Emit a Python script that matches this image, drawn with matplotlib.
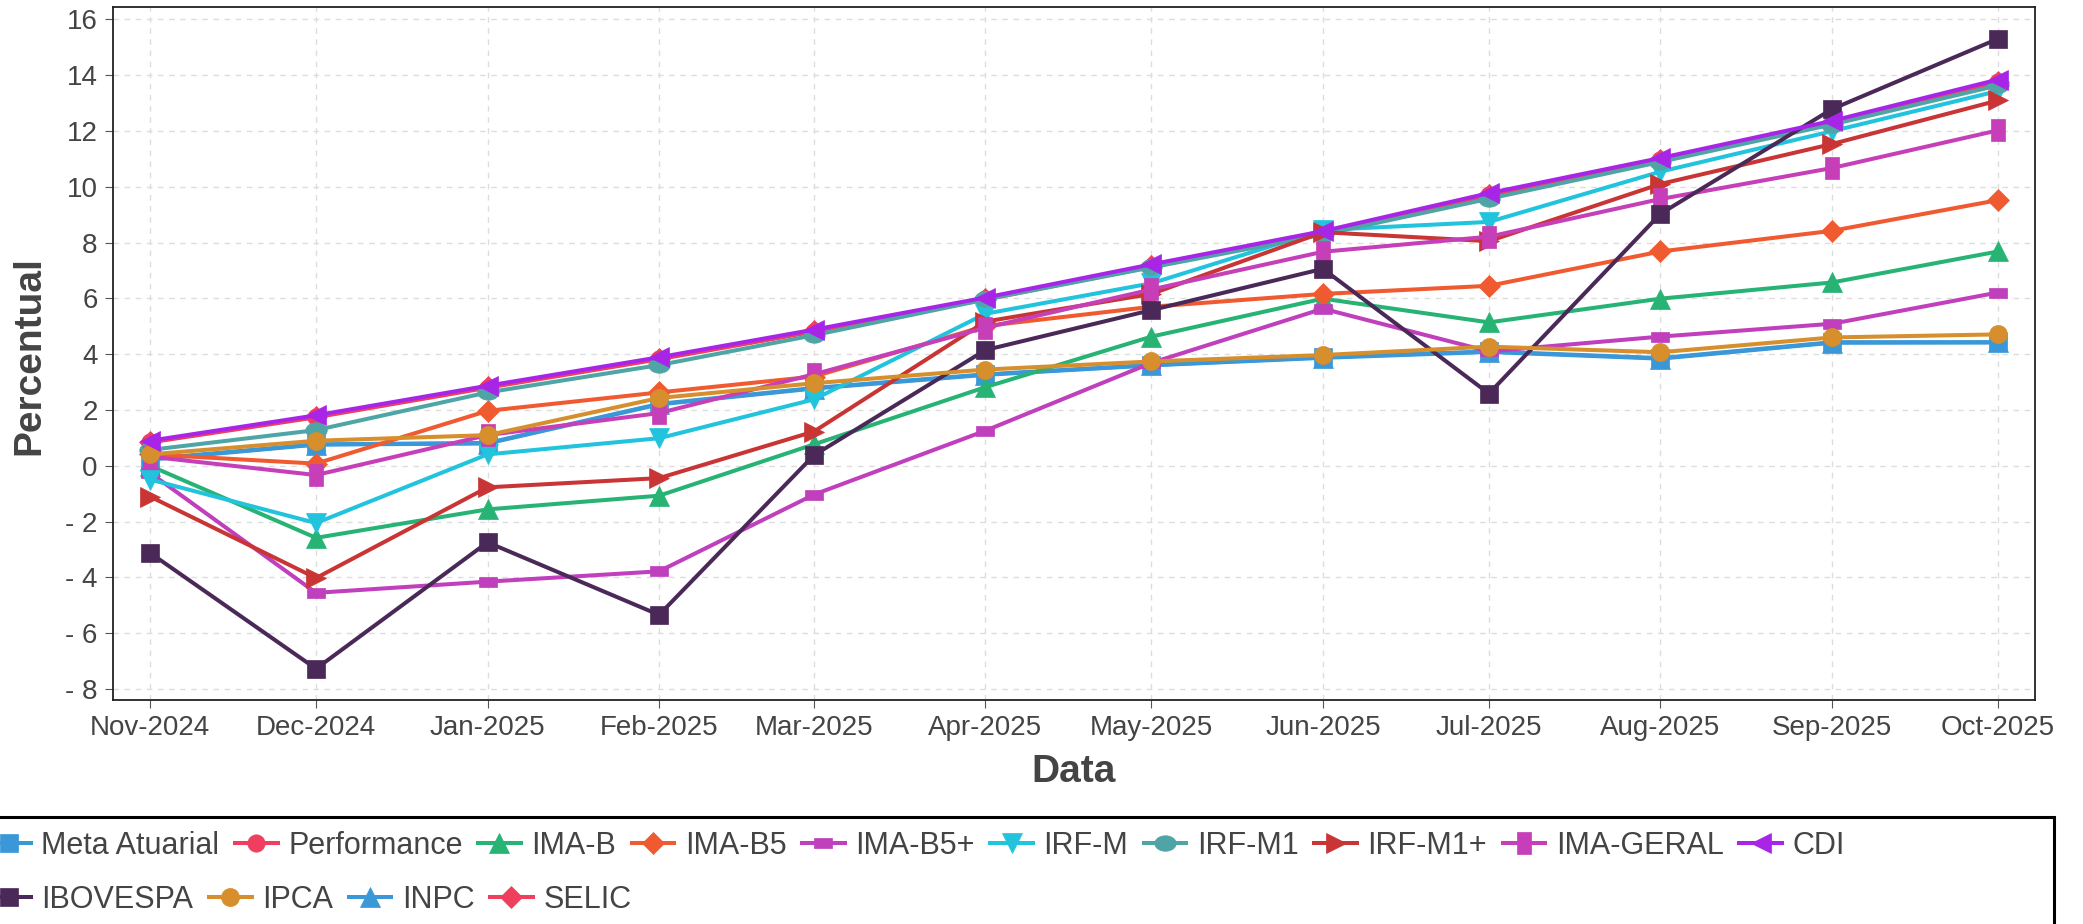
import matplotlib
matplotlib.use('Agg')
import matplotlib.pyplot as plt
import matplotlib.dates as mdates
from matplotlib.patches import Rectangle
from matplotlib.ticker import FuncFormatter
import numpy as np
import pandas as pd

# Data (accumulated %, Nov-2024 .. Oct-2025)
months = pd.date_range('2024-11-01', '2025-10-01', freq='MS')

meta_atuarial = [0.25, 0.77, 0.82, 2.22, 2.79, 3.28, 3.61, 3.89, 4.10, 3.86, 4.43, 4.43]
performance = [0.84, 1.74, 2.80, 3.82, 4.81, 5.96, 7.14, 8.33, 9.69, 10.95, 12.28, 13.75]
ima_b = [0.00, -2.58, -1.56, -1.07, 0.77, 2.82, 4.63, 5.99, 5.14, 5.99, 6.57, 7.68]
ima_b5 = [0.41, 0.08, 1.97, 2.63, 3.20, 5.01, 5.70, 6.16, 6.45, 7.68, 8.42, 9.52]
ima_b5_plus = [-0.25, -4.55, -4.15, -3.78, -1.03, 1.26, 3.69, 5.63, 4.10, 4.63, 5.09, 6.21]
irf_m = [-0.49, -2.05, 0.41, 0.99, 2.38, 5.45, 6.54, 8.45, 8.74, 10.54, 11.99, 13.43]
irf_m1 = [0.57, 1.28, 2.63, 3.61, 4.68, 5.96, 7.11, 8.29, 9.57, 10.89, 12.23, 13.63]
irf_m1_plus = [-1.10, -4.02, -0.77, -0.44, 1.23, 5.17, 6.16, 8.37, 8.05, 10.10, 11.53, 13.09]
ima_geral = [0.33, -0.33, 1.10, 1.89, 3.28, 4.95, 6.32, 7.67, 8.21, 9.56, 10.67, 12.02]
cdi = [0.90, 1.81, 2.87, 3.89, 4.88, 6.03, 7.22, 8.41, 9.77, 11.03, 12.36, 13.84]
ibovespa = [-3.12, -7.27, -2.74, -5.34, 0.38, 4.15, 5.58, 7.06, 2.59, 9.03, 12.78, 15.30]
ipca = [0.41, 0.90, 1.10, 2.43, 2.96, 3.45, 3.74, 3.97, 4.27, 4.07, 4.60, 4.71]
inpc = [0.22, 0.76, 0.80, 2.20, 2.77, 3.26, 3.60, 3.87, 4.08, 3.84, 4.41, 4.42]
selic = [0.86, 1.76, 2.82, 3.84, 4.83, 5.98, 7.16, 8.35, 9.71, 10.97, 12.30, 13.77]

labels = ['Meta Atuarial', 'Performance', 'IMA-B', 'IMA-B5', 'IMA-B5+', 'IRF-M',
          'IRF-M1', 'IRF-M1+', 'IMA-GERAL', 'CDI', 'IBOVESPA', 'IPCA', 'INPC', 'SELIC']
series = [meta_atuarial, performance, ima_b, ima_b5, ima_b5_plus, irf_m, irf_m1,
          irf_m1_plus, ima_geral, cdi, ibovespa, ipca, inpc, selic]
colors = ['#3a98d8', '#f03e5f', '#27b374', '#f05a30', '#c03fbd', '#22c3dc', '#4fa5a5',
          '#c93535', '#c63fb8', '#a825e8', '#4a2958', '#d68f2c', '#3a98d8', '#f03e5f']

# custom marker shapes
t = np.linspace(0, 2 * np.pi, 40)
ellipse = list(zip(np.cos(t), 0.72 * np.sin(t)))
flat_rect = [(-1, -0.6), (1, -0.6), (1, 0.6), (-1, 0.6), (-1, -0.6)]
tall_rect = [(-0.58, -1), (0.58, -1), (0.58, 1), (-0.58, 1), (-0.58, -1)]

markers = ['s', 'o', '^', 'D', flat_rect, 'v', ellipse, '>', tall_rect, '<', 's', 'o', '^', 'D']
msizes = [12.5, 12.5, 14.5, 11, 12.5, 14.5, 15.5, 14.5, 16.5, 14.5, 13.5, 13, 14.5, 11]
zorders = [2, 2, 3, 3, 3, 3, 3, 3, 3, 5, 3, 3, 2, 2]

plt.rcParams['font.family'] = ['Liberation Sans', 'DejaVu Sans']
TXT = '#444444'

fig = plt.figure(figsize=(20.83, 9.24), dpi=100)
ax = fig.add_axes([113 / 2083, 1 - 700 / 924, (2035 - 113) / 2083, (700 - 7) / 924])

lines = []
for lab, vals, c, m, ms, z in zip(labels, series, colors, markers, msizes, zorders):
    ln, = ax.plot(months, vals, color=c, marker=m, markersize=ms, lw=2.9,
                  markeredgecolor=c, markeredgewidth=0.5, label=lab, zorder=z)
    lines.append(ln)

# axes, ticks, grid
x0 = mdates.date2num(months[0]) - 6.7
x1 = mdates.date2num(months[-1]) + 6.7
ax.set_xlim(x0, x1)
ax.set_ylim(-8.39, 16.44)
ax.set_xticks(months)
ax.xaxis.set_major_formatter(mdates.DateFormatter('%b-%Y'))
ax.set_yticks(np.arange(-8, 17, 2))
ax.yaxis.set_major_formatter(FuncFormatter(lambda v, p: f'- {abs(v):.0f}' if v < 0 else f'{v:.0f}'))
ax.tick_params(labelsize=20, colors='#555555', labelcolor=TXT, length=6, pad=5)
ax.grid(True, color='#dddddd', linestyle=(0, (4, 4)), lw=1, zorder=0)
ax.set_axisbelow(True)
for s in ax.spines.values():
    s.set_color('#222222')
    s.set_linewidth(1.3)

fig.text(29 / 2083, 1 - 356 / 924, 'Percentual', rotation=90, ha='center', va='center',
         fontsize=28, fontweight='bold', color=TXT)
fig.text(1074 / 2083, 1 - 772 / 924, 'Data', ha='center', va='center',
         fontsize=28, fontweight='bold', color=TXT)

# legend: box + two flowing rows
fig.add_artist(Rectangle((-0.01, -0.1), 2054 / 2083 + 0.01, 0.1 + (1 - 817 / 924),
                         transform=fig.transFigure, fill=False, lw=2.2,
                         edgecolor='black', clip_on=False))
leg_kw = dict(frameon=False, fontsize=22, handlelength=1.4, handletextpad=0.35,
              columnspacing=0.5, borderpad=0, borderaxespad=0, labelcolor=TXT,
              loc='center left')
fig.legend(lines[:10], labels[:10], ncol=10, bbox_to_anchor=(-12 / 2083, 1 - 846 / 924), **leg_kw)
fig.legend(lines[10:], labels[10:], ncol=4, bbox_to_anchor=(-12 / 2083, 1 - 900 / 924), **leg_kw)

fig.savefig('out.png', dpi=100)
